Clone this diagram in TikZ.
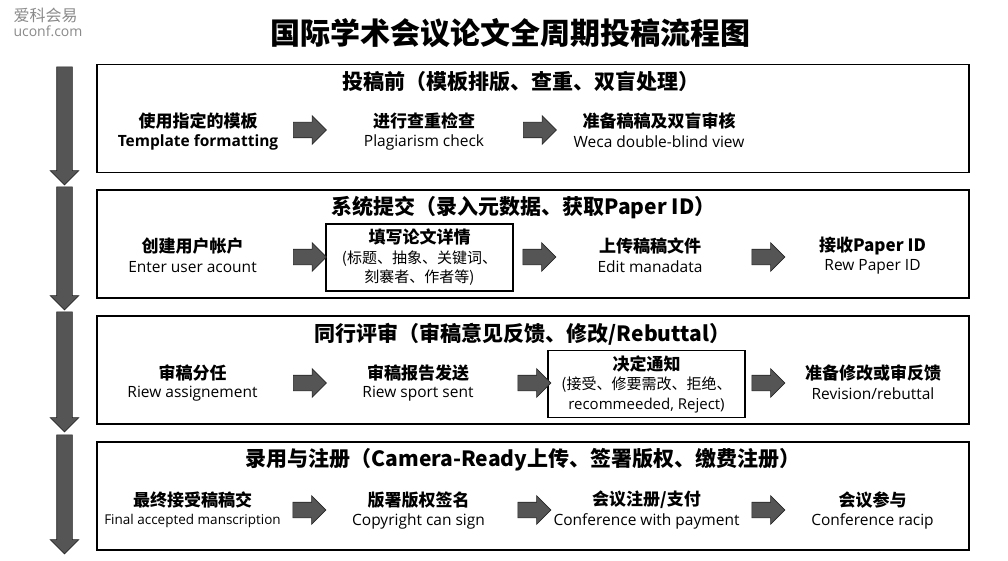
\documentclass[tikz,border=0pt]{standalone}
\usepackage{fontspec}
\setmainfont{Open Sans}
\newfontfamily\cjk{Noto Sans CJK SC}
\usetikzlibrary{shapes.arrows}
\definecolor{arrowfill}{HTML}{555555}
\definecolor{markgray}{HTML}{8A8A8A}
\tikzset{
  stagebox/.style={draw=black,line width=1.5pt,fill=white,minimum width=872pt,
    minimum height=108pt,inner sep=0pt},
  detailbox/.style={draw=black,line width=1.1pt,minimum width=#1,minimum height=67pt,
    inner sep=0pt,align=center,font=\cjk\fontsize{15}{19.5}\selectfont},
  headline/.style={font=\cjk\bfseries\fontsize{21}{24}\selectfont},
  zhline/.style={font=\cjk\bfseries\fontsize{17}{20}\selectfont},
  enline/.style={font=\fontsize{15.5}{19}\selectfont},
  flatarrow/.style={single arrow,draw=black!85,fill=arrowfill,line width=0.6pt,
    inner xsep=0pt,inner ysep=7.5pt,single arrow head extend=6.5pt,minimum height=33pt},
  flowarrow/.style={flatarrow,rotate=-90,minimum height=#1}
}
\newcommand\stepnode[5]{%
  \node[zhline] (#1) at (#2,#3) {#4};
  \node[enline] (#1en) at (#2,#3+21) {#5};}
\begin{document}
\begin{tikzpicture}[x=1pt,y=-1pt]
  \useasboundingbox[fill=white] (0,0) rectangle (1008,561);
  % watermark and title
  \node[anchor=west,text=markgray,font=\cjk\fontsize{16}{18}\selectfont] (mark) at (10,15) {爱科会易};
  \node[anchor=west,text=markgray,font=\fontsize{14}{16}\selectfont] (markurl) at (10,31) {uconf.com};
  \node[font=\cjk\bfseries\fontsize{30}{34}\selectfont] (title) at (510,33) {国际学术会议论文全周期投稿流程图};
  % left flow arrows
  \node[flowarrow=118pt] (flow1) at (64.5,122) {};
  \node[flowarrow=123pt] (flow2) at (64.5,244.5) {};
  \node[flowarrow=120pt] (flow3) at (64.5,368) {};
  \node[flowarrow=119pt] (flow4) at (64.5,490.5) {};
  % stage 1
  \node[stagebox] (st1) at (533,118.5) {};
  \node[headline] (h1) at (521,82) {投稿前（模板排版、查重、双盲处理）};
  \stepnode{s11}{198}{121}{使用指定的模板}{\bfseries Template formatting}
  \stepnode{s12}{424}{121}{进行查重检查}{Plagiarism check}
  \stepnode{s13}{659}{121}{准备稿稿及双盲审核}{Weca double-blind view}
  \node[flatarrow] (a11) at (306,130) {};
  \node[flatarrow] (a12) at (536,130) {};
  % stage 2
  \node[stagebox] (st2) at (533,244) {};
  \node[headline] (h2) at (523.5,208) {系统提交（录入元数据、获取Paper ID）};
  \stepnode{s21}{192.5}{246}{创建用户帐户}{Enter user acount}
  \node[detailbox=187pt] (s22) at (419.5,257.5)
    {{\bfseries\fontsize{17}{19.5}\selectfont 填写论文详情}\\(标题、抽象、关键词、\\刻褰者、作者等)};
  \stepnode{s23}{650}{246}{上传稿稿文件}{Edit manadata}
  \stepnode{s24}{872.5}{246}{接收Paper ID}{Rew Paper ID}
  \node[flatarrow] (a21) at (306,257) {};
  \node[flatarrow] (a22) at (535.5,257) {};
  \node[flatarrow] (a23) at (764.5,257) {};
  % stage 3
  \node[stagebox] (st3) at (533,370) {};
  \node[headline] (h3) at (522.5,334) {同行评审（审稿意见反馈、修改/Rebuttal）};
  \stepnode{s31}{192.5}{373}{审稿分任}{Riew assignement}
  \stepnode{s32}{418}{373}{审稿报告发送}{Riew sport sent}
  \node[detailbox=197pt] (s33) at (646.5,384)
    {{\bfseries\fontsize{17}{19.5}\selectfont 决定通知}\\(接受、修要需改、拒绝、\\{\rmfamily recommeeded, Reject)}};
  \stepnode{s34}{873}{373}{准备修改或审反馈}{Revision/rebuttal}
  \node[flatarrow] (a31) at (306,383) {};
  \node[flatarrow] (a32) at (530.5,383) {};
  \node[flatarrow] (a33) at (764.5,383) {};
  % stage 4
  \node[stagebox] (st4) at (533,496) {};
  \node[headline] (h4) at (523,460) {录用与注册（Camera-Ready上传、签署版权、缴费注册）};
  \stepnode{s41}{192.5}{500}{最终接受稿稿交}{\fontsize{13.5}{16}\selectfont Final accepted manscription}
  \stepnode{s42}{418.5}{500}{版署版权签名}{Copyright can sign}
  \stepnode{s43}{646.5}{500}{会议注册/支付}{Conference with payment}
  \stepnode{s44}{872.5}{500}{会议参与}{Conference racip}
  \node[flatarrow] (a41) at (305.5,510) {};
  \node[flatarrow] (a42) at (530.5,510) {};
  \node[flatarrow] (a43) at (764.5,510) {};
\end{tikzpicture}
\end{document}
